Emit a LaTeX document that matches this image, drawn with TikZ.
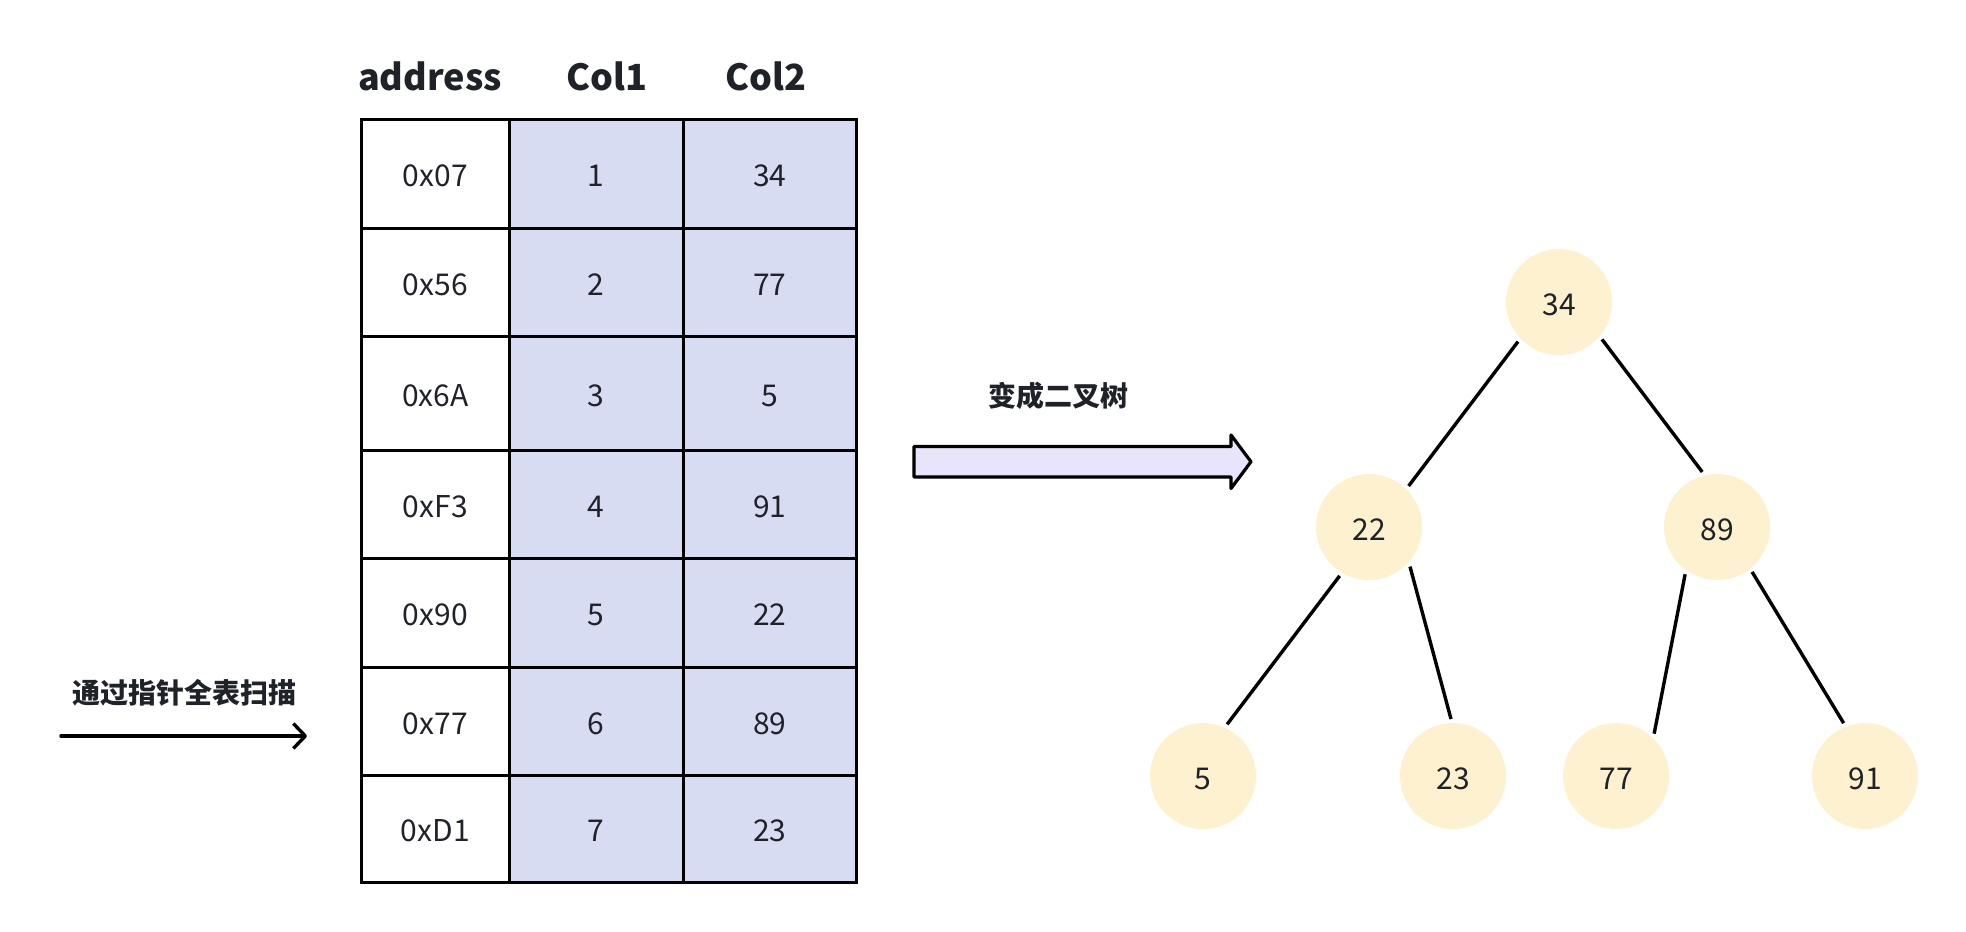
\documentclass[tikz,border=0pt]{standalone}
\usepackage{fontspec}
\setmainfont{Noto Sans CJK SC}
\usepackage{xcolor}
\usepackage{tikz}
\usetikzlibrary{arrows.meta,positioning}

\definecolor{ink}{HTML}{1F2329}
\definecolor{colfill}{HTML}{D7DCF3}
\definecolor{nodefill}{HTML}{FDF1D0}
\definecolor{arrowfill}{HTML}{E8E4FB}

\begin{document}
\begin{tikzpicture}[x=1pt,y=-1pt,
  cell/.style={draw=black,line width=2.5pt,anchor=north west,inner sep=0pt,
    text=ink,text height=26pt,text depth=0pt,font=\fontsize{30}{36}\selectfont},
  head/.style={text=ink,font=\bfseries\fontsize{36}{43}\selectfont},
  caption/.style={text=ink,font=\bfseries\fontsize{28}{33}\selectfont},
  treenode/.style={circle,fill=nodefill,minimum size=106pt,inner sep=0pt,outer sep=4pt,
    text=ink,text height=26pt,text depth=0pt,font=\fontsize{30}{36}\selectfont},
  edge/.style={line width=3.4pt,black}]
\useasboundingbox (0,0) rectangle (1966,932);

\node[head] (haddr) at (430,76) {address};
\node[head] (hcol1) at (607,76) {Col1};
\node[head] (hcol2) at (766,76) {Col2};

\foreach \r/\top/\h/\addr/\ca/\cb in {1/118/109/0x07/1/34, 2/227/108/0x56/2/77,
    3/335/114/0x6A/3/5, 4/449/108/0xF3/4/91, 5/557/109/0x90/5/22,
    6/666/108/0x77/6/89, 7/774/107/0xD1/7/23}{
  \node[cell,minimum width=148pt,minimum height=\h pt] (addr\r) at (360,\top) {\addr};
  \node[cell,fill=colfill,minimum width=174pt,minimum height=\h pt] (cola\r) at (508,\top) {\ca};
  \node[cell,fill=colfill,minimum width=173pt,minimum height=\h pt] (colb\r) at (682,\top) {\cb};
}

\coordinate (scanstart) at (61,736);
\coordinate (scanend) at (307,736);
\draw[line width=3.4pt,line cap=round,-{Straight Barb[length=12pt,width=25pt,line join=round]}]
  (scanstart) -- (scanend);
\node[caption] (scanlabel) at (184,693) {通过指针全表扫描};

\draw[line width=3.2pt,fill=arrowfill,line join=round]
  (914,446.5) -- (1231,446.5) -- (1231,435) -- (1251,461.7) -- (1231,488.5)
  -- (1231,477) -- (914,477) -- cycle;
\node[caption] (convlabel) at (1058,396) {变成二叉树};

\node[treenode] (n34) at (1559,302) {34};
\node[treenode] (n22) at (1369,527) {22};
\node[treenode] (n89) at (1717,527) {89};
\node[treenode] (n5) at (1203,776) {5};
\node[treenode] (n23) at (1453,776) {23};
\node[treenode] (n77) at (1616,776) {77};
\node[treenode] (n91) at (1865,776) {91};

\draw[edge] (n34.224) -- (n22.46);
\draw[edge] (n34.-41) -- (n89.105);
\draw[edge] (n22.-121) -- (n5.65);
\draw[edge] (n22.-44) -- (n23.92);
\draw[edge] (n89.-124) -- (n77.48);
\draw[edge] (n89.-52) -- (n91.112);
\end{tikzpicture}
\end{document}
